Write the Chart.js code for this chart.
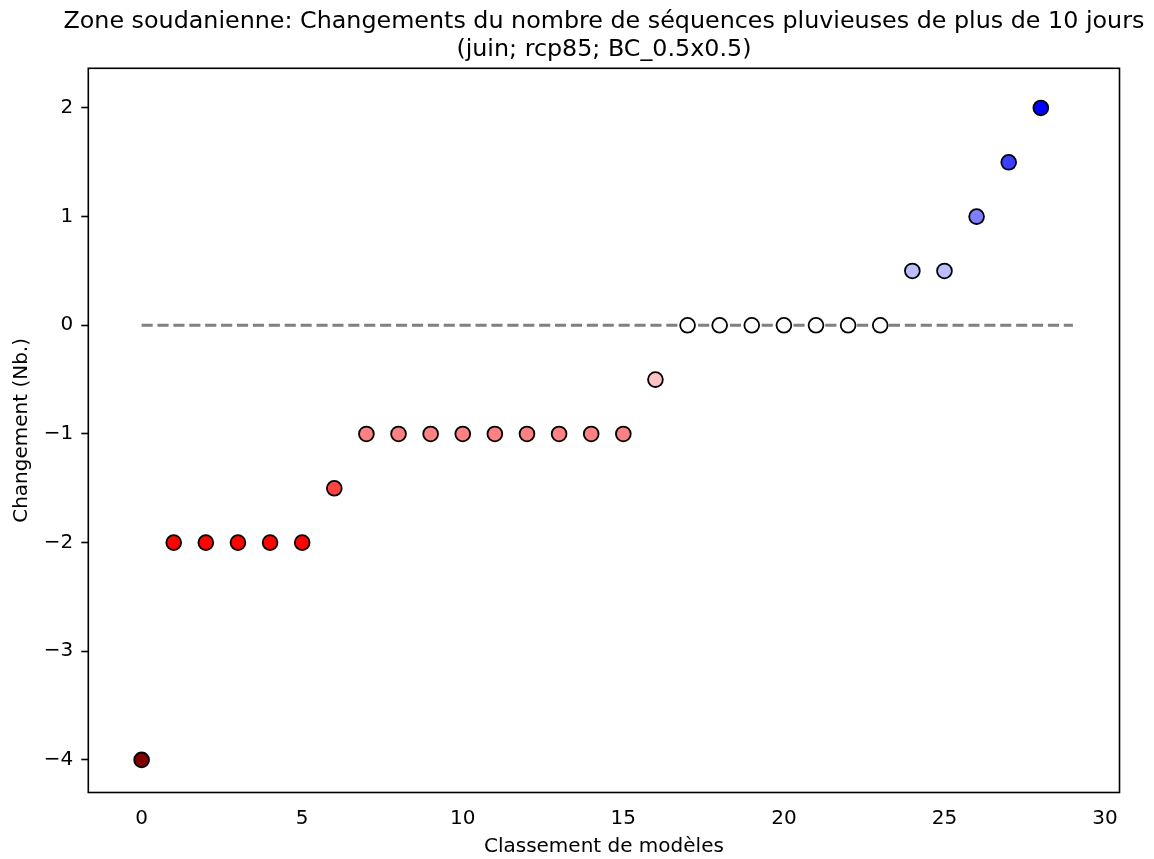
<!DOCTYPE html>
<html>
<head>
<meta charset="utf-8">
<script src="https://cdn.jsdelivr.net/npm/chart.js@4.4.1/dist/chart.umd.min.js"></script>
<style>
  html, body { margin: 0; padding: 0; background: #fff; }
</style>
</head>
<body>
<canvas id="chart" width="1154" height="859"></canvas>
<script>
// data
const titleLines = [
  "Zone soudanienne: Changements du nombre de séquences pluvieuses de plus de 10 jours",
  "(juin; rcp85; BC_0.5x0.5)"
];
const ranks = [0, 1, 2, 3, 4, 5, 6, 7, 8, 9, 10, 11, 12, 13, 14, 15, 16, 17, 18, 19, 20, 21, 22, 23, 24, 25, 26, 27, 28];
const changes = [-4, -2, -2, -2, -2, -2, -1.5, -1, -1, -1, -1, -1, -1, -1, -1, -1, -0.5, 0, 0, 0, 0, 0, 0, 0, 0.5, 0.5, 1, 1.5, 2];
const zeroLineX = [0, 29];
const xTickValues = [0, 5, 10, 15, 20, 25, 30];
const yTickValues = [-4, -3, -2, -1, 0, 1, 2];

const FONT = "'DejaVu Sans', 'Liberation Sans', sans-serif";

// seismic_r colour map, limits -4..4 (256-entry lut => 0 falls just on the blue side)
function seismicR(v) {
  const t = Math.min(1, Math.max(0, 1 - (v + 4) / 8 - 0.5 / 255));
  const stops = [[0, 0, 0, 0.3], [0.25, 0, 0, 1], [0.5, 1, 1, 1], [0.75, 1, 0, 0], [1, 0.5, 0, 0]];
  for (let i = 1; i < stops.length; i++) {
    if (t <= stops[i][0]) {
      const a = stops[i - 1], b = stops[i];
      const f = (t - a[0]) / (b[0] - a[0]);
      const c = [1, 2, 3].map(k => Math.round(255 * (a[k] + f * (b[k] - a[k]))));
      return `rgb(${c[0]},${c[1]},${c[2]})`;
    }
  }
  return "rgb(128,0,0)";
}

const minus = v => String(v).replace("-", "\u2212");

// title above the axes, centred on the plot box like matplotlib
const titlePlugin = {
  id: "mplTitle",
  afterDraw(chart) {
    const { ctx, chartArea: a } = chart;
    ctx.save();
    ctx.font = `23.8px ${FONT}`;
    ctx.fillStyle = "#000";
    ctx.textAlign = "center";
    ctx.textBaseline = "alphabetic";
    const n = titleLines.length;
    titleLines.forEach((line, i) => {
      ctx.fillText(line, (a.left + a.right) / 2, a.top - 12 - (n - 1 - i) * 28.8);
    });
    ctx.restore();
  }
};

// four-sided frame
const framePlugin = {
  id: "frame",
  afterDraw(chart) {
    const { ctx, chartArea: a } = chart;
    ctx.save();
    ctx.strokeStyle = "#000";
    ctx.lineWidth = 1.6;
    ctx.strokeRect(a.left, a.top, a.right - a.left, a.bottom - a.top);
    ctx.restore();
  }
};

const ctx = document.getElementById("chart").getContext("2d");
new Chart(ctx, {
  data: {
    datasets: [
      {
        type: "scatter",
        data: ranks.map((r, i) => ({ x: r, y: changes[i] })),
        pointRadius: 7.4,
        pointHoverRadius: 7.4,
        borderWidth: 1.8,
        pointBorderColor: "#000",
        pointBackgroundColor: changes.map(seismicR),
        order: 0
      },
      {
        type: "line",
        data: zeroLineX.map(x => ({ x: x, y: 0 })),
        borderColor: "#808080",
        borderWidth: 3,
        borderDash: [11.1, 4.8],
        pointRadius: 0,
        fill: false,
        order: 1
      }
    ]
  },
  options: {
    responsive: false,
    animation: false,
    events: [],
    layout: { padding: { top: 68.3, right: 34.5, bottom: 0, left: 0 } },
    plugins: {
      legend: { display: false },
      tooltip: { enabled: false }
    },
    scales: {
      x: {
        type: "linear",
        position: "bottom",
        min: -1.66,
        max: 30.45,
        afterFit(scale) { scale.height = 66.5; },
        afterBuildTicks(scale) { scale.ticks = xTickValues.map(v => ({ value: v })); },
        grid: { display: false, drawTicks: false },
        border: { display: false },
        ticks: {
          padding: 14,
          color: "#000",
          font: { family: FONT, size: 20 },
          callback: v => minus(v)
        },
        title: {
          display: true,
          text: "Classement de modèles",
          color: "#000",
          font: { family: FONT, size: 20 },
          padding: { top: 0, bottom: 0.5 }
        }
      },
      y: {
        type: "linear",
        position: "left",
        min: -4.3,
        max: 2.365,
        afterFit(scale) { scale.width = 88.3; },
        afterBuildTicks(scale) { scale.ticks = yTickValues.map(v => ({ value: v })); },
        grid: {
          drawOnChartArea: false,
          drawTicks: true,
          tickLength: 7,
          tickWidth: 1.6,
          tickColor: "#000"
        },
        border: { display: false },
        ticks: {
          padding: 8,
          color: "#000",
          font: { family: FONT, size: 20 },
          callback: v => minus(v)
        },
        title: {
          display: true,
          text: "Changement (Nb.)",
          color: "#000",
          font: { family: FONT, size: 20 },
          padding: { top: 9.5, bottom: 0 }
        }
      }
    }
  },
  plugins: [titlePlugin, framePlugin]
});
</script>
</body>
</html>
